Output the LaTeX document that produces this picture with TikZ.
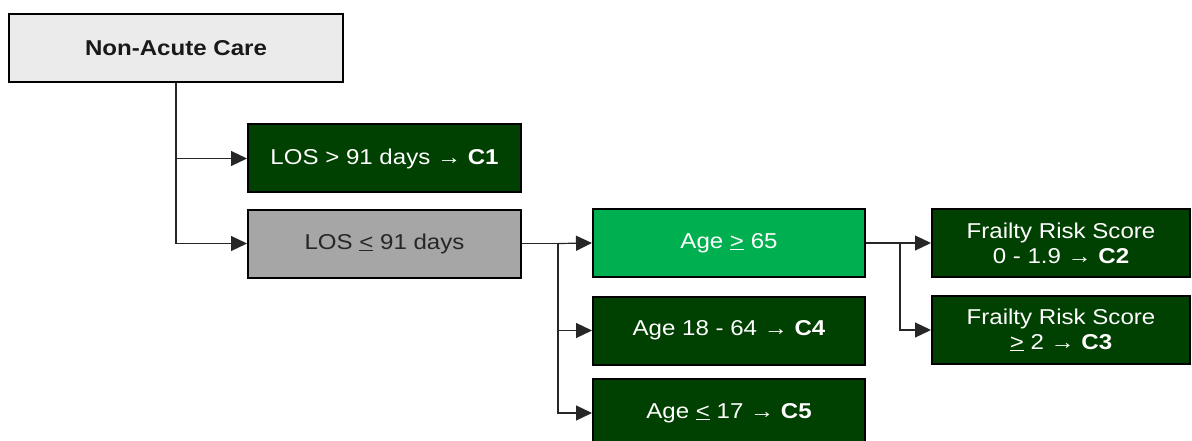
\documentclass[tikz,border=0pt]{standalone}
\usepackage{fontspec}
\setmainfont[FakeStretch=1.12]{Liberation Sans}
\usetikzlibrary{arrows.meta}
\definecolor{leafgreen}{HTML}{004000}
\definecolor{brightgreen}{HTML}{00B050}
\definecolor{midgrey}{HTML}{A6A6A6}
\definecolor{palegrey}{HTML}{EBEBEB}
\begin{document}
\begin{tikzpicture}[x=1pt,y=-1pt,
  box/.style={draw=black, line width=2pt, inner sep=0pt, align=center,
    minimum height=68pt, font=\fontsize{21.5}{25}\selectfont},
  rootbox/.style={box, fill=palegrey, text=black!90, minimum width=334pt,
    font=\fontsize{21.5}{25}\selectfont\bfseries},
  greybox/.style={box, fill=midgrey, text=black!85},
  leafbox/.style={box, fill=leafgreen, text=white},
  agebox/.style={box, fill=brightgreen, text=white},
  conn/.style={draw=black!85, line width=1.2pt},
  arr/.style={conn, -{Triangle[length=16pt,width=15pt]}}]
\useasboundingbox (0,0) rectangle (1192,441);

% boxes
\node[rootbox] (nac) at (176,48) {Non-Acute Care};
\node[leafbox, minimum width=273pt] (c1) at (384.5,158.5) {LOS > 91 days → \textbf{C1}};
\node[greybox, minimum width=273pt] (los) at (384.5,243.5) {LOS \underline{<} 91 days};
\node[agebox, minimum width=272pt] (age65) at (729,243) {Age \underline{>} 65};
\node[leafbox, minimum width=272pt] (age1864) at (729,330.5) {Age 18 - 64 → \textbf{C4}};
\node[leafbox, minimum width=272pt] (age17) at (729,413) {Age \underline{<} 17 → \textbf{C5}};
\node[leafbox, minimum width=258pt] (fr2) at (1061,243) {Frailty Risk Score\\0 - 1.9 → \textbf{C2}};
\node[leafbox, minimum width=258pt] (fr3) at (1061,330) {Frailty Risk Score\\\underline{>} 2 → \textbf{C3}};

% branch points
\coordinate (s1) at (558,243.5);
\coordinate (s2) at (900,243);

% connectors
\draw[arr] (nac.south) |- (c1.west);
\draw[arr] (nac.south) |- (los.west);
\draw[conn] (los.east) -- (s1);
\draw[arr] (s1) -- (age65.west);
\draw[arr] (s1) |- (age1864.west);
\draw[arr] (s1) |- (age17.west);
\draw[conn] (age65.east) -- (s2);
\draw[arr] (s2) -- (fr2.west);
\draw[arr] (s2) |- (fr3.west);
\end{tikzpicture}
\end{document}
